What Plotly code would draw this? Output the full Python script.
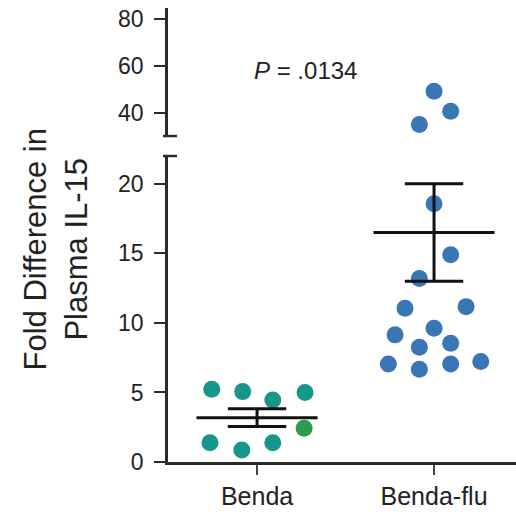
import plotly.graph_objects as go

# ---- data ----
categories = ["Benda", "Benda-flu"]

benda_values = [5.23, 5.06, 4.46, 4.99, 2.42, 1.39, 0.86, 1.39]
benda_offsets = [-0.256, -0.081, 0.089, 0.271, 0.266, -0.266, -0.086, 0.089]
benda_colors = ["#16978b", "#16978b", "#16978b", "#16978b", "#2a9c4c", "#16978b", "#16978b", "#16978b"]

flu_values = [49.1, 40.6, 34.9, 18.56, 14.9, 13.2, 11.06, 11.17, 9.62, 9.14, 8.25, 8.54, 7.05, 6.67, 7.05, 7.22]
flu_offsets = [0.0, 0.094, -0.083, 0.0, 0.094, -0.083, -0.164, 0.181, 0.0, -0.220, -0.083, 0.094, -0.258, -0.083, 0.094, 0.264]

group_means = [3.19, 16.5]
group_sems = [0.64, 3.5]

p_label = "<i>P</i> = .0134"
y_title = "Fold Difference in<br>Plasma IL-15"

lower_ticks = [0, 5, 10, 15, 20]
upper_ticks = [40, 60, 80]

# ---- style ----
FONT = "Liberation Sans, Arial, Helvetica, sans-serif"
AX = "#2a2a2a"
MEAN_HALF = 0.342
CAP_HALF = 0.165

fig = go.Figure()

groups = [
    (0, benda_values, benda_offsets, benda_colors),
    (1, flu_values, flu_offsets, ["#3a76b6"] * len(flu_values)),
]

for xa, ya in [("x", "y"), ("x2", "y2")]:
    for idx, vals, offs, cols in groups:
        fig.add_trace(go.Scatter(
            x=[idx + o for o in offs], y=vals, mode="markers",
            marker=dict(size=17, color=cols, line=dict(width=0)),
            xaxis=xa, yaxis=ya, showlegend=False, hoverinfo="skip",
        ))

# mean and SEM lines
for idx, (m, s) in enumerate(zip(group_means, group_sems)):
    xs = [idx - MEAN_HALF, idx + MEAN_HALF, None,
          idx, idx, None,
          idx - CAP_HALF, idx + CAP_HALF, None,
          idx - CAP_HALF, idx + CAP_HALF]
    ys = [m, m, None,
          m - s, m + s, None,
          m + s, m + s, None,
          m - s, m - s]
    fig.add_trace(go.Scatter(x=xs, y=ys, mode="lines",
                             line=dict(color="#111111", width=3),
                             xaxis="x", yaxis="y", showlegend=False, hoverinfo="skip"))

xr = [-0.503, 1.463]
LOW_TOP = 0.674
UP_BOT = 0.718

fig.update_layout(
    width=516, height=516,
    margin=dict(l=168, r=0, t=8, b=54, autoexpand=False),
    paper_bgcolor="white", plot_bgcolor="white",
    font=dict(family=FONT, color="#222222"),
    xaxis=dict(domain=[0, 1], range=xr, anchor="y",
               tickvals=[0, 1], ticktext=categories,
               showline=True, linecolor=AX, linewidth=2.5,
               ticks="outside", ticklen=10, tickwidth=2, tickcolor="#444444",
               tickfont=dict(size=25, color="#222222"),
               showgrid=False, zeroline=False, automargin=False),
    xaxis2=dict(domain=[0, 1], range=xr, anchor="y2", matches="x", visible=False),
    yaxis=dict(domain=[0, LOW_TOP], range=[0, 22], anchor="x",
               tickvals=lower_ticks,
               showline=True, linecolor=AX, linewidth=2.5,
               ticks="outside", ticklen=11, tickwidth=2, tickcolor=AX,
               tickfont=dict(size=23, color="#222222"), ticklabelstandoff=6,
               showgrid=False, zeroline=False, automargin=False),
    yaxis2=dict(domain=[UP_BOT, 1], range=[30, 84.7], anchor="x2",
                tickvals=upper_ticks,
                showline=True, linecolor=AX, linewidth=2.5,
                ticks="outside", ticklen=11, tickwidth=2, tickcolor=AX,
                tickfont=dict(size=23, color="#222222"), ticklabelstandoff=6,
                showgrid=False, zeroline=False, automargin=False),
)

# axis break caps
for yp in [UP_BOT, LOW_TOP]:
    fig.add_shape(type="line", xref="paper", yref="paper",
                  x0=-0.0144, x1=0.026, y0=yp, y1=yp,
                  line=dict(color=AX, width=2.5))

fig.add_annotation(text=p_label, xref="x", yref="y2", x=0.274, y=58,
                   xanchor="center", yanchor="middle",
                   showarrow=False, font=dict(size=24, color="#222222"))

fig.add_annotation(text=y_title, xref="paper", yref="paper",
                   x=-0.322, y=0.468, xanchor="center", yanchor="middle",
                   textangle=-90, showarrow=False,
                   font=dict(size=31, color="#222222"))

fig.write_html("out.html", config={"displayModeBar": False})

# remove the default page margin so the figure sits at the window origin
with open("out.html", "r", encoding="utf-8") as f:
    html = f.read()
html = html.replace("<body>", '<body style="margin:0;padding:0;overflow:hidden">', 1)
html = html.replace("<head>", '<head><style>html,body{margin:0;padding:0;overflow:hidden}</style>', 1)
with open("out.html", "w", encoding="utf-8") as f:
    f.write(html)
